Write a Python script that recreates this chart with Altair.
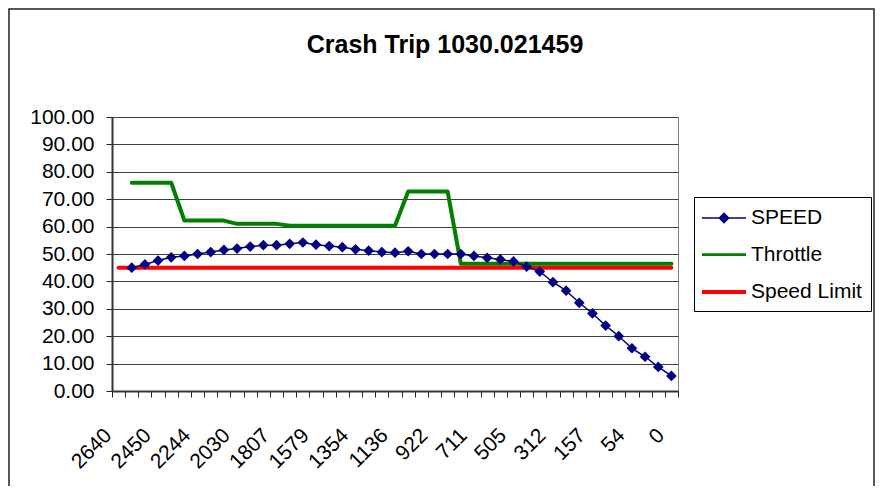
import altair as alt
import pandas as pd

FONT = "Liberation Sans, Arial, sans-serif"

# ---- data ----
tick_labels = ["2640", "2450", "2244", "2030", "1807", "1579", "1354", "1136",
               "922", "711", "505", "312", "157", "54", "0"]
label_step = 3          # one label every third category
n_points = 43

speed = [None, 45.0, 46.2, 47.6, 48.8, 49.3, 50.0, 50.7, 51.5, 52.0, 52.7,
         53.2, 53.2, 53.7, 54.2, 53.4, 52.9, 52.5, 51.7, 51.2, 50.7,
         50.5, 51.0, 50.0, 50.0, 50.0, 50.0, 49.3, 48.6, 48.0, 47.3,
         45.4, 43.6, 39.7, 36.6, 32.2, 28.3, 23.9, 20.0, 15.6, 12.5,
         8.8, 5.5]
throttle = [None, 76.0, 76.0, 76.0, 76.0, 62.2, 62.2, 62.2, 62.2, 61.0, 61.0,
            61.0, 61.0, 60.3, 60.3, 60.3, 60.3, 60.3, 60.3, 60.3, 60.3,
            60.3, 72.8, 72.8, 72.8, 72.8, 46.4, 46.4, 46.4, 46.4, 46.4,
            46.4, 46.4, 46.4, 46.4, 46.4, 46.4, 46.4, 46.4, 46.4, 46.4,
            46.4, 46.4]
speed_limit = [45.0, 45.0, 45.0, 45.0, 45.0, 45.0, 45.0, 45.0, 45.0, 45.0, 45.0,
               45.0, 45.0, 45.0, 45.0, 45.0, 45.0, 45.0, 45.0, 45.0, 45.0,
               45.0, 45.0, 45.0, 45.0, 45.0, 45.0, 45.0, 45.0, 45.0, 45.0,
               45.0, 45.0, 45.0, 45.0, 45.0, 45.0, 45.0, 45.0, 45.0, 45.0,
               45.0, 45.0]

series_names = ["SPEED", "Throttle", "Speed Limit"]
series_colors = ["#000080", "#008000", "#FF0000"]
series_widths = [1.5, 4, 4]

rows = []
for name, vals in zip(series_names, [speed, throttle, speed_limit]):
    for i, v in enumerate(vals):
        if v is not None:
            rows.append({"idx": i, "value": v, "series": name})
df = pd.DataFrame(rows)

color_scale = alt.Scale(domain=series_names, range=series_colors)
width_scale = alt.Scale(domain=series_names, range=series_widths)
shape_scale = alt.Scale(domain=series_names, range=[
    "M-2,0H2M0,-0.42L0.42,0L0,0.42L-0.42,0Z", "M-2,0H2", "M-2,0H2"])

js_labels = "[" + ",".join("'%s'" % t for t in tick_labels) + "]"
label_expr = ("((datum.value + 0.5) %% %d == 0) ? %s[(datum.value + 0.5) / %d] : ''"
              % (label_step, js_labels, label_step))

x_enc = alt.X("idx:Q",
              scale=alt.Scale(domain=[-0.5, n_points - 0.5], nice=False, zero=False),
              axis=alt.Axis(values=[i - 0.5 for i in range(n_points + 1)],
                            labelExpr=label_expr, labelAngle=315,
                            labelAlign="right", labelBaseline="middle",
                            labelOffset=-4, labelPadding=35,
                            labelOverlap=False, labelFlush=False, labelBound=False,
                            labelFontSize=21, labelFont=FONT, labelColor="#000",
                            tickSize=6, tickColor="#222", tickWidth=1,
                            domainColor="#333", domainWidth=2,
                            grid=False, title=None))
y_enc = alt.Y("value:Q",
              scale=alt.Scale(domain=[0, 100], nice=False),
              axis=alt.Axis(values=list(range(0, 101, 10)), format=".2f",
                            labelFontSize=21, labelFont=FONT, labelColor="#000",
                            labelPadding=12, tickSize=6, tickColor="#222",
                            domainColor="#333", domainWidth=2,
                            grid=True, gridColor="#404040", gridWidth=1,
                            title=None))

base = alt.Chart(df)


def series_line(name):
    k = series_names.index(name)
    return base.transform_filter(alt.datum.series == name).mark_line(
        color=series_colors[k], strokeWidth=series_widths[k],
        strokeJoin="round", strokeCap="round").encode(x=x_enc, y=y_enc)


throttle_line = series_line("Throttle")
limit_line = series_line("Speed Limit")
speed_line = series_line("SPEED")
speed_pts = base.transform_filter(alt.datum.series == "SPEED").mark_point(
    shape="diamond", filled=True, size=115, opacity=1,
    color=series_colors[0]).encode(x=x_enc, y=y_enc)

legend_df = pd.DataFrame({"series": series_names})
legend_layer = alt.Chart(legend_df).mark_point(
    filled=False, fill=series_colors[0], clip=True).encode(
    x=alt.value(-500), y=alt.value(-500),
    color=alt.Color("series:N", scale=color_scale,
                    legend=alt.Legend(title=None, orient="none", legendX=582, legendY=80,
                                      labelFont=FONT, labelFontSize=21, labelColor="#000",
                                      symbolSize=484, symbolOffset=8,
                                      rowPadding=14, padding=9, labelOffset=14,
                                      strokeColor="#000", fillColor="#fff",
                                      symbolOpacity=1)),
    shape=alt.Shape("series:N", scale=shape_scale),
    strokeWidth=alt.StrokeWidth("series:N", scale=width_scale),
)

frame = alt.Chart(pd.DataFrame({"a": [0]})).mark_rect(
    fill="transparent", stroke="#222", strokeWidth=1.5, clip=False).encode(
    x=alt.value(-103), x2=alt.value(762), y=alt.value(-108), y2=alt.value(400))

chart = alt.layer(throttle_line, limit_line, speed_line, speed_pts, legend_layer, frame).properties(
    width=566, height=274,
    autosize=alt.AutoSizeParams(type="none"),
    padding={"left": 104, "top": 109, "right": 198, "bottom": 95},
    title=alt.TitleParams("Crash Trip 1030.021459", font=FONT, fontSize=25,
                          fontWeight="bold", color="#000", anchor="middle",
                          frame="group", dx=50, offset=-70, baseline="alphabetic"),
).configure_view(stroke="#808080", strokeWidth=1)

chart.save("out.html", embed_options={"renderer": "svg", "actions": False})
